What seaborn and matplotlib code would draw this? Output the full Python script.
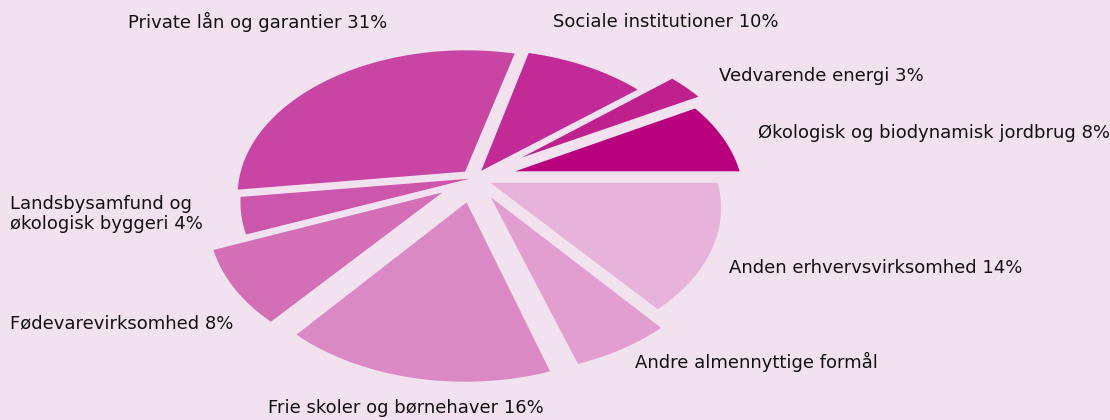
import numpy as np
import matplotlib
matplotlib.use("Agg")
import matplotlib.pyplot as plt
from matplotlib.patches import Polygon
import seaborn as sns

# Data (counter-clockwise from 3 o'clock)
labels = ["Økologisk og biodynamisk jordbrug 8%", "Vedvarende energi 3%",
          "Sociale institutioner 10%", "Private lån og garantier 31%",
          "Landsbysamfund og\nøkologisk byggeri 4%", "Fødevarevirksomhed 8%",
          "Frie skoler og børnehaver 16%", "Andre almennyttige formål",
          "Anden erhvervsvirksomhed 14%"]
values = [8, 3, 10, 31, 4, 8, 16, 6, 14]
colors = ["#b8007f", "#c01f8e", "#c22b97", "#c945a4", "#cc56ab",
          "#d36eb7", "#da89c4", "#e19ecf", "#e7b3da"]
explode = [0.19, 0.26, 0.06, 0.06, 0.02, 0.17, 0.17, 0.15, 0.08]
label_pos = [(758, 133), (719, 76), (553, 22), (128, 22), (10, 214),
             (10, 323), (268, 408), (635, 362), (729, 268)]

bg = "#f2e1ef"
sns.set_theme(style="white")
plt.rcParams['font.family'] = ['DejaVu Sans']

fig = plt.figure(figsize=(11.1, 4.2), dpi=100)
fig.patch.set_facecolor(bg)
ax = fig.add_axes([0, 0, 1, 1])
ax.set_facecolor(bg)

wedges, _ = ax.pie(values, colors=colors, explode=explode, startangle=0,
                   counterclock=True, radius=1)

# tilt the pie in perspective (pixel coordinates)
cx, cy, R = 474, 178, 226
k, c = 0.158, 0.63
for w in wedges:
    t = np.radians(np.linspace(w.theta1, w.theta2, 120))
    x0, y0 = w.center
    x = np.concatenate([[x0], x0 + w.r * np.cos(t)])
    y = np.concatenate([[y0], y0 + w.r * np.sin(t)])
    depth = 1 + k * y
    pts = np.column_stack([cx + R * x / depth, cy - R * c * y / depth])
    ax.add_patch(Polygon(pts, closed=True, facecolor=w.get_facecolor(),
                         linewidth=0))
    w.remove()

for lab, (tx, ty) in zip(labels, label_pos):
    ax.text(tx, ty, lab, ha="left", va="center", fontsize=13,
            color="#111111", linespacing=1.15)

ax.set_aspect("auto")
ax.set_xlim(0, 1110)
ax.set_ylim(420, 0)
ax.axis("off")

fig.savefig("out.png", dpi=100, facecolor=bg)
